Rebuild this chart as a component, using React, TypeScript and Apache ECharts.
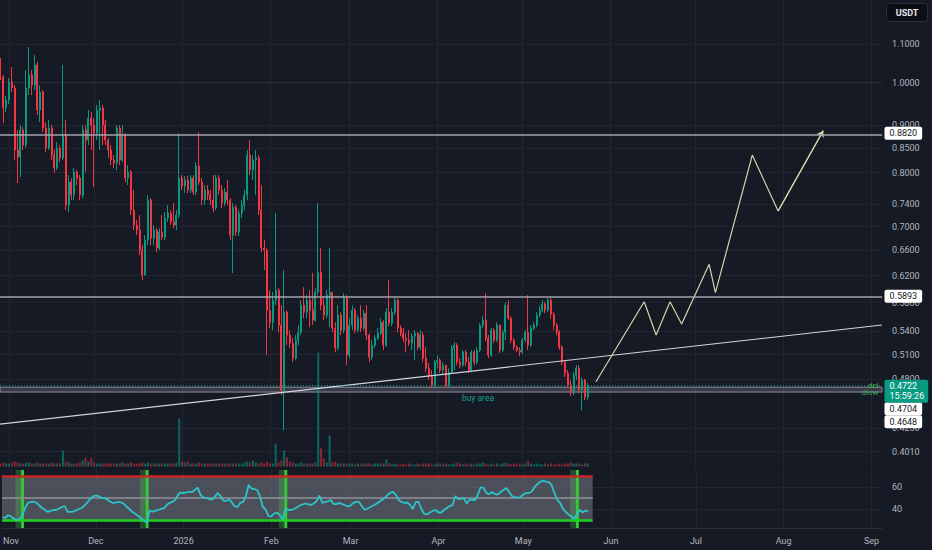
import React, { useEffect, useRef } from 'react';
import * as echarts from 'echarts';

// ---- data (days are counted from 2025-11-01) ----
const FIRST_DAY = -3; // first daily candle: 2025-10-29
const firstOpen = 1.0443;
const closes = [
  1.0137, 0.9388, 0.9576, 1.0012, 0.9865, 0.8461, 0.8316, 0.889, 0.8566, 0.9865,
  1.0187, 0.9938, 1.0443, 0.9342, 0.9768, 0.8934, 0.8503, 0.8934, 0.8357, 0.8092,
  0.8503, 0.8295, 0.8781, 0.7383, 0.7816, 0.7568, 0.8012, 0.7894, 0.7568, 0.889,
  0.8673, 0.9159, 0.9001, 0.8824, 0.9342, 0.9388, 0.9001, 0.8673, 0.8461, 0.8254,
  0.8193, 0.8934, 0.8254, 0.8781, 0.7894, 0.8012, 0.7292, 0.7026, 0.694, 0.6605,
  0.6208, 0.677, 0.7475, 0.6803, 0.694, 0.6638, 0.6906, 0.682, 0.715, 0.7238,
  0.7079, 0.7026, 0.7203, 0.7894, 0.7739, 0.7855, 0.7663, 0.7894, 0.7625, 0.8132,
  0.7816, 0.7475, 0.7663, 0.7568, 0.7475, 0.7328, 0.7894, 0.7663, 0.742, 0.7625,
  0.7475, 0.6854, 0.7347, 0.6906, 0.7238, 0.7383, 0.7568, 0.8357, 0.8052, 0.8254,
  0.8295, 0.7292, 0.6638, 0.6605, 0.5692, 0.5526, 0.5835, 0.5982, 0.5485, 0.467,
  0.5664, 0.5351, 0.5246, 0.5054, 0.5285, 0.539, 0.5763, 0.5664, 0.5835, 0.5692,
  0.5553, 0.5953, 0.6254, 0.5763, 0.5622, 0.5908, 0.595, 0.5444, 0.5181, 0.5622,
  0.5417, 0.5879, 0.5092, 0.5485, 0.5692, 0.5417, 0.558, 0.5444, 0.565, 0.5351,
  0.5067, 0.522, 0.5311, 0.5377, 0.5526, 0.522, 0.5664, 0.5512, 0.5664, 0.5835,
  0.5444, 0.5377, 0.5311, 0.5285, 0.5246, 0.5338, 0.5377, 0.5194, 0.5351, 0.5054,
  0.4931, 0.4834, 0.4728, 0.5005, 0.503, 0.4907, 0.4968, 0.4728, 0.4883, 0.5181,
  0.522, 0.5005, 0.4968, 0.5131, 0.5005, 0.4907, 0.5131, 0.5005, 0.5156, 0.5485,
  0.5553, 0.5311, 0.5092, 0.5417, 0.5285, 0.5485, 0.5156, 0.539, 0.5763, 0.558,
  0.5285, 0.5194, 0.5156, 0.5131, 0.5285, 0.539, 0.522, 0.5444, 0.5485, 0.5622,
  0.5692, 0.5778, 0.5692, 0.5835, 0.5636, 0.5485, 0.539, 0.5194, 0.5005, 0.4871,
  0.4728, 0.4635, 0.4846, 0.4931, 0.467, 0.4787, 0.4589, 0.4722,
];
const highs = [
  1.0625, 1.0187, 0.9671, 1.0112, 1.0391, 0.9938, 0.889, 0.9001, 0.8957, 1.0314,
  1.0918, 1.0314, 1.0704, 1.0521, 0.9938, 0.9816, 0.9068, 0.9113, 0.9001, 0.8461,
  0.863, 0.8566, 1.0443, 0.9113, 0.7953, 0.7894, 0.8092, 0.8052, 0.7953, 0.9001,
  0.9001, 0.9342, 0.9296, 0.9159, 0.9458, 0.9576, 0.9458, 0.9113, 0.8716, 0.8566,
  0.8357, 0.9001, 0.9001, 0.9001, 0.8824, 0.8152, 0.8052, 0.7663, 0.7114, 0.7203,
  0.6687, 0.6854, 0.7568, 0.7512, 0.7026, 0.6974, 0.6974, 0.7203, 0.7256, 0.7383,
  0.7292, 0.742, 0.7292, 0.8824, 0.7953, 0.7933, 0.7933, 0.7953, 0.7953, 0.8213,
  0.8846, 0.7894, 0.7758, 0.7758, 0.7663, 0.7953, 0.7953, 0.7953, 0.7758, 0.7701,
  0.7855, 0.7512, 0.742, 0.7383, 0.7292, 0.7475, 0.7663, 0.8461, 0.8673, 0.8357,
  0.8461, 0.8357, 0.7758, 0.677, 0.6638, 0.5982, 0.5953, 0.7238, 0.6011, 0.5763,
  0.6285, 0.5692, 0.5417, 0.5311, 0.5351, 0.5485, 0.5835, 0.6026, 0.5908, 0.5982,
  0.6239, 0.6011, 0.742, 0.6638, 0.5879, 0.5982, 0.6638, 0.5908, 0.5526, 0.5763,
  0.5664, 0.5938, 0.5908, 0.558, 0.5763, 0.572, 0.5622, 0.5763, 0.5692, 0.5763,
  0.5377, 0.5285, 0.5351, 0.5444, 0.558, 0.5553, 0.572, 0.6132, 0.572, 0.5893,
  0.5864, 0.5485, 0.5444, 0.5377, 0.5417, 0.5377, 0.5417, 0.539, 0.5417, 0.539,
  0.5194, 0.4993, 0.4907, 0.503, 0.5092, 0.5054, 0.5005, 0.4968, 0.4931, 0.522,
  0.5259, 0.5246, 0.5054, 0.5156, 0.5156, 0.5067, 0.5156, 0.5156, 0.5194, 0.5512,
  0.5608, 0.5938, 0.5351, 0.5444, 0.5444, 0.5526, 0.5498, 0.5417, 0.5806, 0.5835,
  0.5608, 0.5311, 0.522, 0.5194, 0.5311, 0.5417, 0.5908, 0.5485, 0.5526, 0.5664,
  0.5749, 0.5835, 0.5806, 0.5864, 0.5864, 0.5664, 0.5512, 0.5417, 0.522, 0.503,
  0.4907, 0.4787, 0.4883, 0.4968, 0.4968, 0.4822, 0.48, 0.4752,
];
const lows = [
  1.0062, 0.9046, 0.9296, 0.9482, 0.9768, 0.8254, 0.7797, 0.7914, 0.8461, 0.8503,
  0.9695, 0.9695, 0.9816, 0.9227, 0.9068, 0.8846, 0.8419, 0.8461, 0.8254, 0.7993,
  0.8052, 0.8213, 0.8254, 0.7292, 0.7256, 0.7475, 0.7475, 0.7758, 0.7475, 0.7512,
  0.8012, 0.8566, 0.8461, 0.772, 0.8673, 0.8461, 0.8566, 0.8566, 0.8295, 0.8152,
  0.8092, 0.8052, 0.8152, 0.8213, 0.7816, 0.7758, 0.7203, 0.694, 0.6854, 0.6523,
  0.6132, 0.6317, 0.6687, 0.6687, 0.6687, 0.6572, 0.6605, 0.677, 0.677, 0.7079,
  0.7026, 0.6974, 0.694, 0.715, 0.7663, 0.7606, 0.7606, 0.7606, 0.7568, 0.7568,
  0.7758, 0.7383, 0.7383, 0.7475, 0.7383, 0.7256, 0.7292, 0.7568, 0.7328, 0.7365,
  0.7383, 0.677, 0.6239, 0.6837, 0.6837, 0.715, 0.7292, 0.7475, 0.7953, 0.7855,
  0.7568, 0.7203, 0.6572, 0.6285, 0.5092, 0.5444, 0.5417, 0.5763, 0.539, 0.4612,
  0.4229, 0.522, 0.5181, 0.5005, 0.503, 0.522, 0.5351, 0.558, 0.558, 0.5458,
  0.5485, 0.5526, 0.5908, 0.5692, 0.5553, 0.558, 0.5458, 0.539, 0.5131, 0.5156,
  0.5351, 0.5377, 0.4968, 0.5054, 0.5417, 0.5377, 0.539, 0.539, 0.5417, 0.5285,
  0.5005, 0.503, 0.5181, 0.5285, 0.5351, 0.5156, 0.5194, 0.5471, 0.5471, 0.5622,
  0.539, 0.5338, 0.5259, 0.5131, 0.5207, 0.5156, 0.503, 0.5156, 0.5156, 0.5005,
  0.4883, 0.4787, 0.4693, 0.4705, 0.4931, 0.4871, 0.4846, 0.4693, 0.4705, 0.4859,
  0.4907, 0.4968, 0.4931, 0.4943, 0.4956, 0.4871, 0.4883, 0.4968, 0.4981, 0.5131,
  0.5444, 0.5272, 0.5054, 0.5067, 0.5246, 0.5259, 0.5118, 0.5131, 0.5285, 0.5553,
  0.5246, 0.5156, 0.5131, 0.5079, 0.5105, 0.5259, 0.5156, 0.5194, 0.5417, 0.5458,
  0.5594, 0.5664, 0.565, 0.5664, 0.558, 0.5417, 0.5351, 0.5156, 0.4968, 0.4822,
  0.4693, 0.4601, 0.4612, 0.4787, 0.4635, 0.4444, 0.4555, 0.456,
];
const volumes = [
  3, 4, 3, 3, 4, 5, 4, 3, 3, 4,
  4, 3, 3, 4, 3, 3, 3, 3, 4, 3,
  3, 3, 16, 5, 4, 3, 3, 3, 4, 6,
  9, 5, 9, 4, 3, 3, 3, 3, 3, 3,
  3, 3, 3, 4, 3, 3, 4, 3, 3, 3,
  4, 3, 4, 3, 3, 3, 3, 3, 3, 3,
  3, 3, 4, 48, 5, 4, 5, 3, 3, 3,
  4, 3, 3, 3, 3, 3, 3, 3, 3, 3,
  3, 3, 3, 3, 3, 3, 4, 5, 4, 6,
  4, 3, 4, 3, 5, 3, 3, 23, 4, 6,
  16, 9, 5, 4, 3, 3, 4, 3, 3, 3,
  3, 4, 114, 18, 8, 4, 31, 4, 5, 3,
  3, 3, 3, 3, 3, 2, 3, 2, 3, 3,
  3, 2, 3, 3, 3, 3, 7, 3, 2, 3,
  2, 2, 3, 2, 3, 2, 2, 3, 2, 3,
  3, 3, 2, 2, 3, 3, 2, 3, 2, 2,
  3, 4, 3, 2, 3, 2, 3, 2, 3, 3,
  4, 3, 2, 3, 2, 3, 2, 3, 4, 3,
  2, 3, 2, 3, 2, 3, 6, 3, 2, 3,
  2, 2, 3, 2, 3, 2, 2, 3, 2, 3,
  3, 4, 3, 3, 3, 2, 3, 3,
];
const rsi = [
  32.7, 31.8, 34.3, 33.2, 31.4, 30, 30.9, 33.6, 40.9, 45.5,
  46.4, 46.8, 45.9, 43.2, 40.9, 39.1, 37.3, 38.2, 39.1, 39.1,
  40.5, 41.8, 42.7, 37.3, 37.3, 37.7, 38.8, 40, 40.9, 43.2,
  45.9, 49.1, 51.4, 52.3, 51.8, 50, 50, 48.6, 46.8, 45.5,
  45.9, 46.4, 45.9, 44.5, 41.8, 39.5, 37.3, 35.5, 33.6, 31.4,
  29.5, 27.7, 38.6, 37.5, 38.2, 39.1, 40, 40.6, 43.6, 45.5,
  46.4, 48.2, 52.7, 55, 54.5, 55.2, 55.5, 55.5, 57.3, 59.5,
  52.7, 50.5, 50, 49.1, 48.6, 50.9, 54.5, 51.8, 47.7, 47.3,
  48.6, 46.4, 42.3, 41.8, 45.5, 46.4, 51.8, 61.8, 58.6, 58.2,
  57.3, 51.4, 41.8, 39.5, 33.6, 33.2, 35.9, 36.6, 34.5, 30.3,
  40.5, 39.1, 39.1, 40, 41.4, 43.2, 44.1, 45, 44.5, 43.6,
  45, 47.3, 52.3, 45.5, 46.4, 47, 48.2, 44.5, 44.5, 45.5,
  44.5, 43.4, 42.3, 43.2, 45.6, 46.4, 46.4, 42.3, 39.1, 40.5,
  41.8, 43.2, 44.5, 46.4, 48.2, 50, 52.7, 54.7, 55.5, 52.7,
  48.2, 46.4, 45.5, 45.9, 43.6, 40, 46.4, 46.4, 40, 35.5,
  35, 36.8, 38.2, 39.1, 36.8, 36.8, 39.1, 40.9, 42.7, 43.6,
  51.8, 49.1, 49.1, 50, 45, 48.2, 48.6, 48.2, 53.6, 60,
  59.1, 54.5, 53.6, 55.5, 53.6, 53.2, 55.5, 57.3, 59.1, 55.5,
  51.8, 50.5, 50.5, 50.9, 53.2, 54.5, 54.5, 55.9, 60, 62.7,
  64.5, 65.9, 65, 64.5, 61.8, 54.5, 48.2, 45.5, 40, 37.3,
  35, 33.2, 30.9, 35.5, 39.1, 36.8, 38.6, 37.7,
];
const monthTickDays = [0, 30, 61, 92, 120, 151, 181, 212, 242, 273, 304];
const monthTickLabels = ['Nov', 'Dec', '2026', 'Feb', 'Mar', 'Apr', 'May', 'Jun', 'Jul', 'Aug', 'Sep'];
const priceTicks = [1.1, 1.0, 0.9, 0.85, 0.8, 0.74, 0.7, 0.66, 0.62, 0.58, 0.54, 0.51, 0.48, 0.425, 0.401];
const rsiTicks = [40, 60];
const rsiBands = [70, 50, 30];
const rsiSignalDays = [4, 48, 97, 200];
const levels = [0.882, 0.5893];
const buyArea = [0.4648, 0.4704];
const lastPrice = 0.4722;
const countdown = '15:59:26';
const trendDays = [-3.172, 307.72];
const trendPrices = [0.4294, 0.5487];
const projDays = [206.9, 223.9, 228.1, 233.0, 237.1, 246.8, 249.0, 262.0, 271.1, 287.0];
const projPrices = [0.4768, 0.5813, 0.5353, 0.5813, 0.55, 0.6376, 0.5944, 0.8357, 0.7276, 0.8875];
const buyAreaLabelDay = 165.3;
const rsiBandEndDay = 205.5;

// ---- view ranges ----
const X_MIN = -3.172;
const X_MAX = 307.72;
const P_MIN = 0.3842;
const P_MAX = 1.2266;
const RSI_MIN = 22.7;
const RSI_MAX = 75.5;
const VOL_MAX = 166.5;

const BG = '#161a25';
const TEXT = '#b2b5be';
const GRID_LINE = '#212532';
const UP = '#089981';
const DOWN = '#f23645';
const FONT = 'Roboto, sans-serif';

function buildOption(): any {
  const L = Math.log;
  const opens = closes.map((c, i) => (i === 0 ? firstOpen : closes[i - 1]));
  const days = closes.map((_, i) => FIRST_DAY + i);
  const candleData = closes.map((c, i) => [days[i], L(opens[i]), L(c), L(lows[i]), L(highs[i])]);
  const volData = volumes.map((v, i) => ({
    value: [days[i], v],
    itemStyle: { color: closes[i] >= opens[i] ? 'rgba(8,153,129,0.6)' : 'rgba(242,54,69,0.5)' },
  }));
  const rsiData = rsi.map((v, i) => [days[i], v]);
  const trendData = trendDays.map((d, i) => [d, L(trendPrices[i])]);
  const projData = projDays.map((d, i) => [d, L(projPrices[i])]);
  const n = projData.length;

  const whiteBox = {
    show: true, position: 'right', distance: 2, backgroundColor: '#ffffff', color: '#131722',
    fontSize: 9, lineHeight: 10, padding: [2, 5, 1, 5], borderRadius: 2, fontFamily: FONT, opacity: 1,
  };
  const hidden = { color: 'rgba(0,0,0,0)', opacity: 1 };
  const annotations = [
    { value: [X_MAX, L(levels[0])], itemStyle: hidden, label: { ...whiteBox, formatter: levels[0].toFixed(4) } },
    { value: [X_MAX, L(levels[1])], itemStyle: hidden, label: { ...whiteBox, formatter: levels[1].toFixed(4) } },
    { value: [X_MAX, L(buyArea[1])], itemStyle: hidden, label: { ...whiteBox, offset: [0, 21.5], formatter: buyArea[1].toFixed(4) } },
    { value: [X_MAX, L(buyArea[0])], itemStyle: hidden, label: { ...whiteBox, offset: [0, 29.8], formatter: buyArea[0].toFixed(4) } },
    {
      value: [X_MAX, L(lastPrice)], itemStyle: hidden,
      label: {
        ...whiteBox, backgroundColor: UP, color: '#ffffff', lineHeight: 10.5, padding: [1, 4, 1, 5],
        offset: [0, 5.5], formatter: lastPrice.toFixed(4) + '\n' + countdown,
      },
    },
    {
      value: [X_MAX, L(buyArea[1])], itemStyle: hidden,
      label: { show: true, position: 'left', distance: 3, offset: [0, -1.5], color: '#4caf50', fontSize: 8, lineHeight: 8, fontFamily: FONT, formatter: 'dcl' },
    },
    {
      value: [X_MAX, L(buyArea[0])], itemStyle: hidden,
      label: { show: true, position: 'left', distance: 3, offset: [0, 0.5], color: '#3aa861', fontSize: 8, lineHeight: 8, fontFamily: FONT, formatter: 'dlow' },
    },
    {
      value: [buyAreaLabelDay, L(buyArea[0])], itemStyle: hidden,
      label: { show: true, position: 'bottom', distance: 1, color: '#13a08a', fontSize: 8.5, fontFamily: FONT, formatter: 'buy area' },
    },
  ];

  const rsiMarkAreas: any[] = [
    [
      { xAxis: X_MIN, yAxis: rsiBands[2], itemStyle: { color: 'rgba(120,123,134,0.55)' } },
      { xAxis: rsiBandEndDay, yAxis: rsiBands[0] },
    ],
  ];
  rsiSignalDays.forEach((d) => {
    rsiMarkAreas.push([{ xAxis: d - 2.4, itemStyle: { color: 'rgba(76,200,80,0.28)' } }, { xAxis: d + 0.6 }]);
  });
  rsiSignalDays.forEach((d) => {
    rsiMarkAreas.push([{ xAxis: d - 0.4, itemStyle: { color: '#34cc34' } }, { xAxis: d + 0.6 }]);
  });

  const monthFormatter = (v: number) => {
    const k = monthTickDays.indexOf(Math.round(v));
    return k >= 0 ? monthTickLabels[k] : '';
  };

  return {
    animation: false,
    backgroundColor: BG,
    textStyle: { fontFamily: FONT },
    grid: [
      { left: 0, right: 50, top: 0, height: 469 },
      { left: 0, right: 50, top: 300, height: VOL_MAX },
      { left: 0, right: 50, top: 470, height: 58 },
    ],
    xAxis: [
      {
        type: 'value', gridIndex: 0, min: X_MIN, max: X_MAX,
        axisLabel: { show: false },
        axisTick: { show: false, customValues: monthTickDays },
        axisLine: { show: true, lineStyle: { color: '#2a2e39' } },
        splitLine: { show: true, lineStyle: { color: GRID_LINE, width: 1 } },
      },
      { type: 'value', gridIndex: 1, min: X_MIN, max: X_MAX, show: false, splitLine: { show: false } },
      {
        type: 'value', gridIndex: 2, min: X_MIN, max: X_MAX,
        axisLabel: { show: true, customValues: monthTickDays, formatter: monthFormatter, color: TEXT, fontSize: 9, margin: 8, fontFamily: FONT },
        axisTick: { show: false, customValues: monthTickDays },
        axisLine: { show: true, lineStyle: { color: '#2a2e39' } },
        splitLine: { show: true, lineStyle: { color: GRID_LINE, width: 1 } },
      },
    ],
    yAxis: [
      {
        type: 'value', gridIndex: 0, position: 'right', min: L(P_MIN), max: L(P_MAX),
        axisLabel: {
          customValues: priceTicks.map((p) => L(p)),
          formatter: (v: number) => Math.exp(v).toFixed(4),
          color: TEXT, fontSize: 9, margin: 10, fontFamily: FONT,
        },
        axisTick: { show: false, customValues: priceTicks.map((p) => L(p)) },
        axisLine: { show: false },
        splitLine: { show: true, lineStyle: { color: GRID_LINE, width: 1 } },
      },
      { type: 'value', gridIndex: 1, min: 0, max: VOL_MAX, show: false, splitLine: { show: false } },
      {
        type: 'value', gridIndex: 2, position: 'right', min: RSI_MIN, max: RSI_MAX,
        axisLabel: { customValues: rsiTicks, color: TEXT, fontSize: 9, margin: 10, fontFamily: FONT },
        axisTick: { show: false, customValues: rsiTicks },
        axisLine: { show: false },
        splitLine: { show: true, lineStyle: { color: GRID_LINE, width: 1 } },
      },
    ],
    graphic: [
      {
        type: 'group', right: 4, top: 3,
        children: [
          { type: 'rect', shape: { x: 0, y: 0, width: 41, height: 18, r: 3 }, style: { fill: '#0c0e14', stroke: '#2a2e39', lineWidth: 1 } },
          { type: 'text', x: 20.5, y: 9.5, style: { text: 'USDT', fill: '#e6e8ee', font: 'bold 9px Roboto, sans-serif', align: 'center', verticalAlign: 'middle' } },
        ],
      },
    ],
    series: [
      {
        type: 'bar', name: 'volume', xAxisIndex: 1, yAxisIndex: 1, data: volData, barWidth: 2,
        silent: true, z: 1,
      },
      {
        type: 'candlestick', name: 'price', xAxisIndex: 0, yAxisIndex: 0, data: candleData,
        barWidth: 1.5, silent: true, z: 3,
        itemStyle: { color: UP, color0: DOWN, borderColor: UP, borderColor0: DOWN, borderWidth: 1 },
        markLine: {
          silent: true, symbol: ['none', 'none'], label: { show: false }, animation: false,
          data: [
            { yAxis: L(levels[0]), lineStyle: { color: '#a0a3ab', width: 1.5, type: 'solid' } },
            { yAxis: L(levels[1]), lineStyle: { color: '#a0a3ab', width: 1.5, type: 'solid' } },
            { yAxis: L(lastPrice), lineStyle: { color: UP, width: 1, type: [1, 2] } },
          ],
        },
        markArea: {
          silent: true,
          data: [[
            { yAxis: L(buyArea[1]), itemStyle: { color: 'rgba(120,123,134,0.35)', borderColor: '#8c8f98', borderWidth: 1 } },
            { yAxis: L(buyArea[0]) },
          ]],
        },
      },
      {
        type: 'line', name: 'trend', xAxisIndex: 0, yAxisIndex: 0, data: trendData, showSymbol: false,
        silent: true, z: 4, lineStyle: { color: '#d1d4dc', width: 1.2 },
      },
      {
        type: 'line', name: 'projection', xAxisIndex: 0, yAxisIndex: 0, data: projData, showSymbol: false,
        silent: true, z: 4, lineStyle: { color: '#d8d3a8', width: 1.2 },
      },
      {
        type: 'lines', name: 'arrow', coordinateSystem: 'cartesian2d', xAxisIndex: 0, yAxisIndex: 0,
        silent: true, z: 4, symbol: ['none', 'arrow'], symbolSize: 6,
        lineStyle: { color: '#d8d3a8', width: 1.2, opacity: 1 },
        data: [{ coords: [projData[n - 2], projData[n - 1]] }],
      },
      {
        type: 'scatter', name: 'labels', xAxisIndex: 0, yAxisIndex: 0, data: annotations,
        symbolSize: 1, clip: false, silent: true, z: 10, itemStyle: { opacity: 1 },
      },
      {
        type: 'line', name: 'rsi', xAxisIndex: 2, yAxisIndex: 2, data: rsiData, showSymbol: false,
        silent: true, z: 10, lineStyle: { color: '#2cc4c8', width: 1.8 },
        markArea: { silent: true, data: rsiMarkAreas },
        markLine: {
          silent: true, symbol: ['none', 'none'], label: { show: false }, animation: false,
          data: [
            [{ coord: [X_MIN, rsiBands[0]], lineStyle: { color: '#c62828', width: 2.5, type: 'solid' } }, { coord: [rsiBandEndDay, rsiBands[0]] }],
            [{ coord: [X_MIN, rsiBands[1]], lineStyle: { color: '#8f929b', width: 1.5, type: 'solid' } }, { coord: [rsiBandEndDay, rsiBands[1]] }],
            [{ coord: [X_MIN, rsiBands[2]], lineStyle: { color: '#1fd11f', width: 2.5, type: 'solid' } }, { coord: [rsiBandEndDay, rsiBands[2]] }],
          ],
        },
      },
    ],
  };
}

export default function App() {
  const ref = useRef<HTMLDivElement>(null);
  useEffect(() => {
    document.body.style.margin = '0';
    document.body.style.background = BG;
    const chart = echarts.init(ref.current as HTMLDivElement, null, { renderer: 'svg' });
    chart.setOption(buildOption());
    return () => chart.dispose();
  }, []);
  return <div ref={ref} style={{ width: 932, height: 550, background: BG }} />;
}
